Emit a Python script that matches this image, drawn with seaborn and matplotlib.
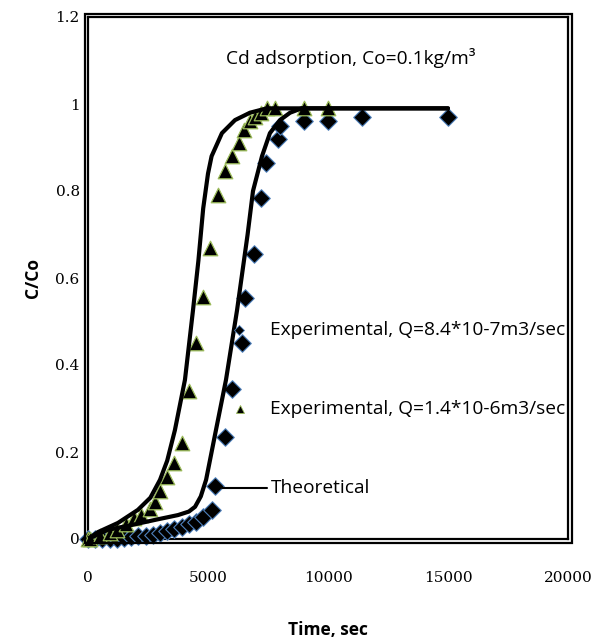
import numpy as np
import pandas as pd
import matplotlib
matplotlib.use("Agg")
import matplotlib.pyplot as plt
from matplotlib.patches import Rectangle
import seaborn as sns

# ---- data ----
t_q1 = [0, 300, 600, 900, 1200, 1500, 1800, 2100, 2400, 2700, 3000, 3300, 3600, 3900,
        4200, 4500, 4800, 5150, 5300, 5700, 6000, 6400, 6550, 6900, 7200, 7400, 7900,
        8000, 9000, 10000, 11400, 15000]
c_q1 = [0, 0, 0, 0, 0, 0.002, 0.004, 0.006, 0.008, 0.01, 0.014, 0.018, 0.023, 0.028,
        0.035, 0.04, 0.05, 0.067, 0.122, 0.235, 0.345, 0.45, 0.555, 0.656, 0.785, 0.865,
        0.92, 0.95, 0.96, 0.96, 0.97, 0.97]

t_q2 = [0, 100, 500, 900, 1200, 1600, 1900, 2200, 2600, 2800, 3000, 3300, 3600, 3900,
        4200, 4500, 4800, 5100, 5400, 5700, 6000, 6300, 6500, 6750, 6950, 7200, 7450,
        7800, 9000, 10000]
c_q2 = [0, 0, 0.007, 0.014, 0.02, 0.035, 0.048, 0.055, 0.07, 0.085, 0.11, 0.143, 0.175,
        0.22, 0.34, 0.45, 0.556, 0.67, 0.79, 0.845, 0.88, 0.91, 0.94, 0.96, 0.97, 0.98,
        0.99, 0.99, 0.99, 0.99]

t_th1 = [0, 420, 1250, 2080, 2600, 3000, 3300, 3620, 4040, 4375, 4600, 4800, 5000, 5150,
         5580, 6125, 6750, 7450, 15000]
c_th1 = [0, 0.016, 0.037, 0.067, 0.095, 0.136, 0.18, 0.25, 0.366, 0.526, 0.64, 0.76,
         0.84, 0.88, 0.933, 0.963, 0.98, 0.99, 0.99]

t_th2 = [0, 830, 1800, 2800, 3750, 4200, 4460, 4700, 4920, 5330, 5750, 6210, 6650, 6875,
         7250, 7580, 8000, 8420, 8900, 15000]
c_th2 = [0, 0.021, 0.032, 0.044, 0.055, 0.063, 0.074, 0.098, 0.136, 0.25, 0.366, 0.526,
         0.70, 0.80, 0.88, 0.933, 0.963, 0.98, 0.99, 0.99]

x_ticks = [0, 5000, 10000, 15000, 20000]
y_ticks = [0, 0.2, 0.4, 0.6, 0.8, 1.0, 1.2]
y_tick_labels = ["0", "0.2", "0.4", "0.6", "0.8", "1", "1.2"]

title_text = "Cd adsorption, Co=0.1kg/m\u00b3"
label_q1 = "Experimental, Q=8.4*10-7m3/sec"
label_q2 = "Experimental, Q=1.4*10-6m3/sec"
label_th = "Theoretical"

# ---- plotting ----
sns.set_theme(style="white")
plt.rcParams["font.family"] = ["Open Sans", "DejaVu Sans"]
plt.rcParams["text.color"] = "black"
plt.rcParams["axes.labelcolor"] = "black"
plt.rcParams["xtick.color"] = "black"
plt.rcParams["ytick.color"] = "black"

fig = plt.figure(figsize=(5.97, 6.38), dpi=100)
ax = fig.add_axes([88 / 597, 1 - 539 / 638, 480 / 597, 522 / 638])

df_q1 = pd.DataFrame({"t": t_q1, "c": c_q1})
df_q2 = pd.DataFrame({"t": t_q2, "c": c_q2})
df_th1 = pd.DataFrame({"t": t_th1, "c": c_th1})
df_th2 = pd.DataFrame({"t": t_th2, "c": c_th2})

sns.scatterplot(data=df_q1, x="t", y="c", ax=ax, marker="D", s=80, color="black",
                edgecolor="#4F81BD", linewidth=0.8, zorder=3, clip_on=False)
sns.scatterplot(data=df_q2, x="t", y="c", ax=ax, marker="^", s=110, color="black",
                edgecolor="#9BBB59", linewidth=0.9, zorder=3, clip_on=False)
sns.lineplot(data=df_th1, x="t", y="c", ax=ax, color="black", linewidth=3.0, zorder=4,
             estimator=None, sort=False)
sns.lineplot(data=df_th2, x="t", y="c", ax=ax, color="black", linewidth=3.0, zorder=4,
             estimator=None, sort=False)

ax.set_xlim(0, 20000)
ax.set_ylim(0, 1.2)
ax.set_xticks(x_ticks)
ax.set_xticklabels([str(v) for v in x_ticks], family="DejaVu Serif", fontsize=11)
ax.set_yticks(y_ticks)
ax.set_yticklabels(y_tick_labels, family="DejaVu Serif", fontsize=11)
ax.tick_params(axis="y", length=0, pad=6)
ax.tick_params(axis="x", length=0, pad=23)

ax.set_xlabel("Time, sec", fontsize=12.5, fontweight="bold", labelpad=26)
ax.set_ylabel("C/Co", fontsize=12.5, fontweight="bold", labelpad=10)

for s in ax.spines.values():
    s.set_visible(True)
    s.set_color("black")
    s.set_linewidth(1.6)

# outer line of the double frame, 3.5 px outside the axes
W, H = 597, 638
fig.add_artist(Rectangle(((88 - 3.5) / W, 1 - (539 + 3.5) / H), (480 + 7) / W, (522 + 7) / H,
                         transform=fig.transFigure, fill=False, edgecolor="black",
                         linewidth=1.6, zorder=10))

# in-plot annotations (title and hand-placed legend)
ax.text(5750, 1.106, title_text, fontsize=13.8, ha="left", va="center")

ax.plot([6290], [0.48], marker="D", ms=5, color="black", mec="#4F81BD", mew=0.6,
        linestyle="none", zorder=5)
ax.text(7600, 0.48, label_q1, fontsize=13.8, ha="left", va="center", clip_on=True)
ax.plot([6330], [0.30], marker="^", ms=6, color="black", mec="#9BBB59", mew=0.6,
        linestyle="none", zorder=5)
ax.text(7600, 0.30, label_q2, fontsize=13.8, ha="left", va="center", clip_on=True)
ax.plot([5580, 7450], [0.117, 0.117], color="black", linewidth=1.5, zorder=5)
ax.text(7600, 0.117, label_th, fontsize=13.8, ha="left", va="center", clip_on=True)

fig.savefig("out.png", dpi=100)
